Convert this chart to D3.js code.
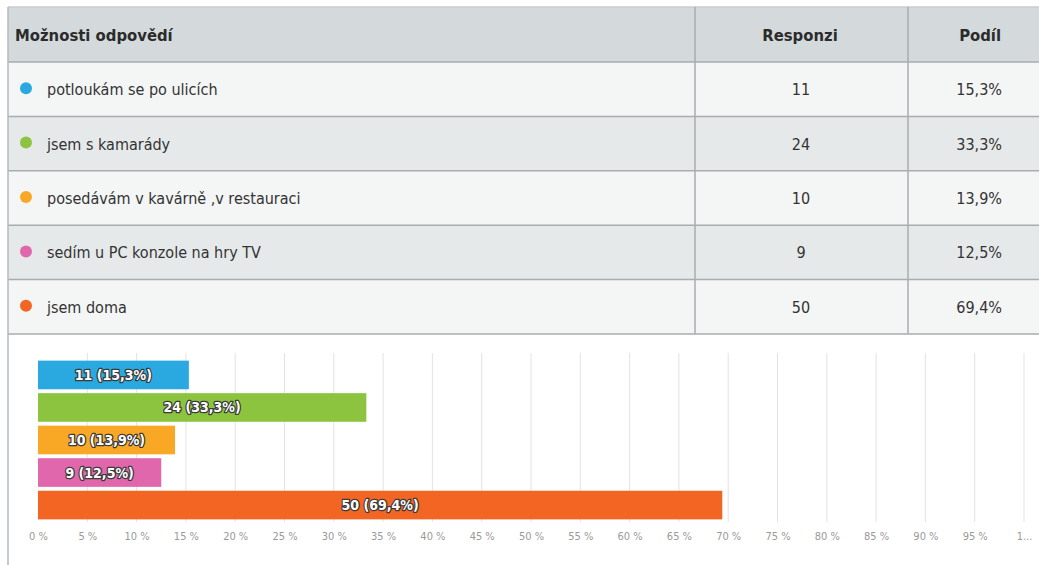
<!DOCTYPE html>
<html>
<head>
<meta charset="utf-8">
<script src="https://cdn.jsdelivr.net/npm/d3@7"></script>
<style>
  body { margin: 0; background: #fff; }
  svg { display: block; font-family: "DejaVu Sans Condensed", "DejaVu Sans", sans-serif; }
</style>
</head>
<body>
<div id="chart"></div>
<script>
const categories = [
  "potloukám se po ulicích",
  "jsem s kamarády",
  "posedávám v kavárně ,v restauraci",
  "sedím u PC konzole na hry TV",
  "jsem doma"
];
const responses = [11, 24, 10, 9, 50];
const shares = [15.3, 33.3, 13.9, 12.5, 69.4];
const ticks = [0, 5, 10, 15, 20, 25, 30, 35, 40, 45, 50, 55, 60, 65, 70, 75, 80, 85, 90, 95, 100];

const colors = ["#29a9e0", "#8cc43f", "#f9a826", "#e067ac", "#f26522"];
const fmt = v => v.toFixed(1).replace(".", ",");

const width = 1039, height = 565;
const svg = d3.select("#chart").append("svg")
  .attr("width", width).attr("height", height);

// table
const tableLeft = 8, tableTop = 7, headH = 55, rowH = 54.4;
const col1 = 695, col2 = 908;
const rowY = d3.scaleBand().domain(d3.range(categories.length))
  .range([tableTop + headH, tableTop + headH + rowH * categories.length]);

svg.append("rect")
  .attr("x", tableLeft).attr("y", tableTop)
  .attr("width", width - tableLeft).attr("height", headH)
  .attr("fill", "#d4d9dc");

svg.selectAll("rect.row")
  .data(categories)
  .enter()
  .append("rect")
  .attr("class", "row")
  .attr("x", tableLeft)
  .attr("y", (d, i) => rowY(i))
  .attr("width", width - tableLeft)
  .attr("height", rowY.bandwidth())
  .attr("fill", (d, i) => i % 2 ? "#e6e9ea" : "#f4f5f5");

// horizontal lines
const lineYs = [tableTop, tableTop + headH].concat(d3.range(categories.length).map(i => rowY(i) + rowY.bandwidth()));
svg.selectAll("line.h")
  .data(lineYs)
  .enter()
  .append("line")
  .attr("x1", tableLeft).attr("x2", width)
  .attr("y1", d => d).attr("y2", d => d)
  .attr("stroke", d => d === tableTop ? "#c8cccf" : "#a8adb0")
  .attr("stroke-width", 1.5);

const tableBottom = lineYs[lineYs.length - 1];
[col1, col2].forEach(x => {
  svg.append("line")
    .attr("x1", x).attr("x2", x)
    .attr("y1", tableTop).attr("y2", tableBottom)
    .attr("stroke", "#a8adb0").attr("stroke-width", 1.5);
});
svg.append("line")
  .attr("x1", tableLeft).attr("x2", tableLeft)
  .attr("y1", tableTop).attr("y2", height)
  .attr("stroke", "#b4b8bb").attr("stroke-width", 1.5);

// header text
const head = svg.append("g")
  .attr("font-weight", "bold").attr("font-size", 16.5).attr("fill", "#2b2b2b");
head.append("text").attr("x", 15).attr("y", tableTop + headH / 2 + 6).text("Možnosti odpovědí");
head.append("text").attr("x", 800).attr("y", tableTop + headH / 2 + 6)
  .attr("text-anchor", "middle").text("Responzi");
head.append("text").attr("x", 1001).attr("y", tableTop + headH / 2 + 6)
  .attr("text-anchor", "end").text("Podíl");

// rows
const rows = svg.selectAll("g.r")
  .data(categories)
  .enter()
  .append("g")
  .attr("class", "r")
  .attr("transform", (d, i) => `translate(0,${rowY(i) + rowY.bandwidth() / 2})`)
  .attr("font-size", 16).attr("fill", "#333");

rows.append("circle")
  .attr("cx", 26).attr("cy", -1).attr("r", 6)
  .attr("fill", (d, i) => colors[i]);
rows.append("text")
  .attr("x", 47).attr("y", 6).text(d => d);
rows.append("text")
  .attr("x", 801).attr("y", 6).attr("text-anchor", "middle")
  .text((d, i) => responses[i]);
rows.append("text")
  .attr("x", 1002).attr("y", 6).attr("text-anchor", "end")
  .text((d, i) => fmt(shares[i]) + "%");

// bar chart
const x = d3.scaleLinear().domain([0, 100]).range([38, 1024]);
const y = d3.scaleBand().domain(categories).range([359, 521])
  .paddingInner(0.12).paddingOuter(0.05);

const gridTop = 353, gridBottom = 522;
svg.append("g")
  .selectAll("line")
  .data(ticks.slice(1))
  .enter()
  .append("line")
  .attr("x1", d => x(d)).attr("x2", d => x(d))
  .attr("y1", gridTop).attr("y2", gridBottom)
  .attr("stroke", "#e3e3e3").attr("stroke-width", 1);

const axis = svg.append("g")
  .attr("transform", `translate(0,${gridBottom})`)
  .call(d3.axisBottom(x).tickValues(ticks).tickSize(0).tickPadding(10)
    .tickFormat(d => d === 100 ? "1..." : d + " %"));
axis.select(".domain").remove();
axis.selectAll("text")
  .attr("font-family", "'DejaVu Sans Condensed', sans-serif")
  .attr("font-size", 11).attr("fill", "#9a9a9a");

svg.selectAll("rect.bar")
  .data(categories)
  .enter()
  .append("rect")
  .attr("class", "bar")
  .attr("x", x(0))
  .attr("y", d => y(d))
  .attr("width", (d, i) => x(shares[i]) - x(0))
  .attr("height", y.bandwidth())
  .attr("fill", (d, i) => colors[i]);

svg.selectAll("text.lbl")
  .data(categories)
  .enter()
  .append("text")
  .attr("class", "lbl")
  .attr("x", (d, i) => (x(0) + x(shares[i])) / 2)
  .attr("y", d => y(d) + y.bandwidth() / 2 + 5)
  .attr("text-anchor", "middle")
  .attr("font-size", 14).attr("font-weight", "bold")
  .attr("fill", "#fff")
  .attr("stroke", "#3a3a3a").attr("stroke-width", 2.5)
  .attr("paint-order", "stroke")
  .attr("stroke-linejoin", "round")
  .text((d, i) => responses[i] + " (" + fmt(shares[i]) + "%)");
</script>
</body>
</html>
